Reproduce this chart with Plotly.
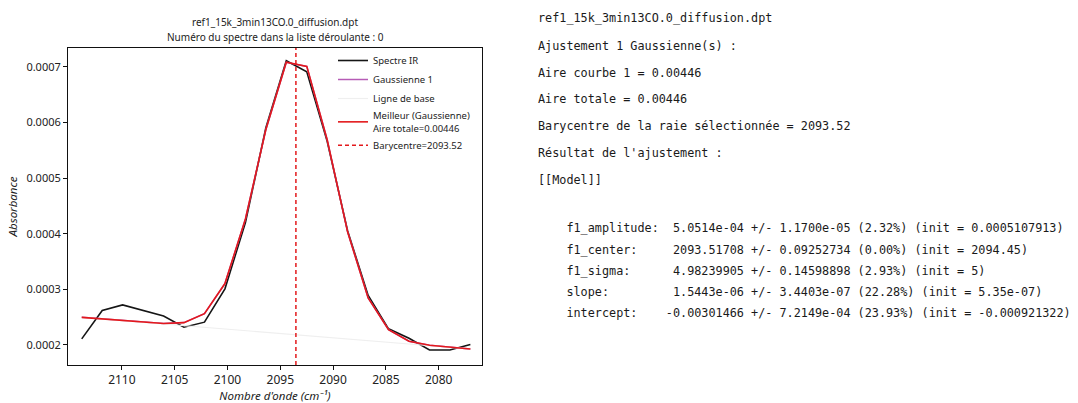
import plotly.graph_objects as go

# ---------------- data ----------------
wavenumber = [2113.80, 2111.86, 2109.93, 2107.99, 2106.05, 2104.12, 2102.18,
              2100.24, 2098.30, 2096.37, 2094.43, 2092.49, 2090.56, 2088.62,
              2086.68, 2084.75, 2082.81, 2080.87, 2078.94, 2077.00]

spectre_ir = [0.000211, 0.000262, 0.000272, 0.000262, 0.000252, 0.000232,
              0.000241, 0.000301, 0.000420, 0.000590, 0.000711, 0.000691,
              0.000566, 0.000405, 0.000289, 0.000229, 0.000212, 0.000191,
              0.000191, 0.000201]

meilleur_fit = [0.0002497, 0.0002467, 0.0002437, 0.0002408, 0.0002386,
                0.0002402, 0.0002563, 0.0003104, 0.0004264, 0.0005869,
                0.0007082, 0.0007008, 0.0005689, 0.0004030, 0.0002846,
                0.0002276, 0.0002068, 0.0001996, 0.0001959, 0.0001928]

gaussienne_1 = [0.0002497, 0.0002467, 0.0002437, 0.0002408, 0.0002386,
                0.0002402, 0.0002563, 0.0003104, 0.0004264, 0.0005869,
                0.0007082, 0.0007008, 0.0005689, 0.0004030, 0.0002846,
                0.0002276, 0.0002068, 0.0001996, 0.0001959, 0.0001928]

ligne_de_base = [0.0002497, 0.0002467, 0.0002437, 0.0002407, 0.0002377,
                 0.0002347, 0.0002317, 0.0002287, 0.0002257, 0.0002227,
                 0.0002197, 0.0002167, 0.0002137, 0.0002108, 0.0002078,
                 0.0002048, 0.0002018, 0.0001988, 0.0001958, 0.0001928]

barycentre = 2093.52
aire_totale = "0.00446"

x_ticks = [2110, 2105, 2100, 2095, 2090, 2085, 2080]
y_ticks = [0.0002, 0.0003, 0.0004, 0.0005, 0.0006, 0.0007]
x_range = [2115.1, 2075.9]
y_range = [0.000164, 0.0007339]

title_lines = ["ref1_15k_3min13CO.0_diffusion.dpt",
               "Numéro du spectre dans la liste déroulante : 0"]

report_top = ["ref1_15k_3min13CO.0_diffusion.dpt",
              "Ajustement 1 Gaussienne(s) :",
              "Aire courbe 1 = 0.00446",
              "Aire totale = 0.00446",
              "Barycentre de la raie sélectionnée = 2093.52",
              "Résultat de l'ajustement :",
              "[[Model]]"]
report_params = [
    "    f1_amplitude:  5.0514e-04 +/- 1.1700e-05 (2.32%) (init = 0.0005107913)",
    "    f1_center:     2093.51708 +/- 0.09252734 (0.00%) (init = 2094.45)",
    "    f1_sigma:      4.98239905 +/- 0.14598898 (2.93%) (init = 5)",
    "    slope:         1.5443e-06 +/- 3.4403e-07 (22.28%) (init = 5.35e-07)",
    "    intercept:    -0.00301466 +/- 7.2149e-04 (23.93%) (init = -0.000921322)",
]

# ---------------- layout geometry ----------------
W, H = 1078, 403
L, R, T, B = 68, 0, 48, 38
plot_right = 482
PW = W - L - R
PH = H - T - B


def px_x(px):
    return (px - L) / PW


def px_y(py):
    return (H - B - py) / PH


fig = go.Figure()
RED = "#e3191c"
fig.add_trace(go.Scatter(x=wavenumber, y=spectre_ir, mode="lines", name="Spectre IR",
                         line=dict(color="#151515", width=1.6)))
fig.add_trace(go.Scatter(x=wavenumber, y=gaussienne_1, mode="lines", name="Gaussienne 1",
                         line=dict(color="#b65cb6", width=1.5)))
fig.add_trace(go.Scatter(x=wavenumber, y=ligne_de_base, mode="lines", name="Ligne de base",
                         line=dict(color="#efefef", width=1.2)))
fig.add_trace(go.Scatter(x=wavenumber, y=meilleur_fit, mode="lines",
                         name="Meilleur (Gaussienne)<br>Aire totale=" + aire_totale,
                         line=dict(color=RED, width=1.6)))
fig.add_trace(go.Scatter(x=[barycentre, barycentre], y=y_range, mode="lines",
                         name="Barycentre=%.2f" % barycentre,
                         line=dict(color=RED, width=1.5, dash="4px,3px")))

chart_font = "Noto Sans"
axis_common = dict(showline=True, linecolor="#111", linewidth=1, mirror=True,
                   ticks="outside", ticklen=4, tickcolor="#111", showgrid=False,
                   zeroline=False)

fig.update_layout(
    width=W, height=H,
    margin=dict(l=L, r=R, t=T, b=B, pad=0),
    paper_bgcolor="white", plot_bgcolor="white",
    showlegend=True,
    legend=dict(x=px_x(333), y=px_y(46), xanchor="left", yanchor="top",
                bgcolor="rgba(255,255,255,0)", borderwidth=0,
                font=dict(family=chart_font, size=9.5, color="#222"),
                tracegroupgap=0),
    xaxis=dict(domain=[0, (plot_right - L) / PW], range=x_range, tickvals=x_ticks,
               ticktext=[str(v) for v in x_ticks],
               tickfont=dict(family=chart_font, size=12, color="#222"),
               title=dict(text="<i>Nombre d'onde (cm\u207b\u00b9)</i>",
                          font=dict(family=chart_font, size=11.5, color="#222"), standoff=8),
               **axis_common),
    yaxis=dict(range=y_range, tickvals=y_ticks, tickformat=".4f",
               tickfont=dict(family=chart_font, size=11, color="#222"),
               title=dict(text="<i>Absorbance</i>",
                          font=dict(family=chart_font, size=11.5, color="#222"), standoff=6),
               **axis_common),
)

annotations = []
for text, py in zip(title_lines, [22, 37]):
    annotations.append(dict(text=text, x=px_x(275), y=px_y(py), xref="paper", yref="paper",
                            xanchor="center", yanchor="middle", showarrow=False,
                            font=dict(family=chart_font, size=10, color="#222")))

mono = "DejaVu Sans Mono"
for text, py in zip(report_top, [18, 46, 73, 99, 126, 153, 180]):
    annotations.append(dict(text=text.replace(" ", "\u00a0"), x=px_x(536), y=px_y(py),
                            xref="paper", yref="paper", xanchor="left", yanchor="middle",
                            showarrow=False, font=dict(family=mono, size=11.8, color="#1a1a1a")))
for text, py in zip(report_params, [228, 250, 271, 292, 313]):
    annotations.append(dict(text=text.replace(" ", "\u00a0"), x=px_x(536), y=px_y(py),
                            xref="paper", yref="paper", xanchor="left", yanchor="middle",
                            showarrow=False, font=dict(family=mono, size=11.8, color="#1a1a1a")))
fig.update_layout(annotations=annotations)

fig.write_html("out.html")
